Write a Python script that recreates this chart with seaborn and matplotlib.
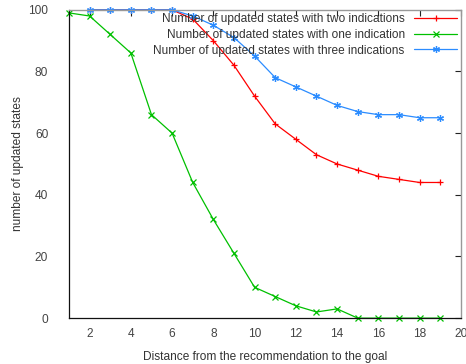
import matplotlib
matplotlib.use('Agg')
import matplotlib.pyplot as plt
import seaborn as sns
import pandas as pd

# values
x_one = list(range(1, 20))
one_ind = [99, 98, 92, 86, 66, 60, 44, 32, 21, 10, 7, 4, 2, 3, 0, 0, 0, 0, 0]

x_multi = list(range(2, 20))
two_ind = [100, 100, 100, 100, 100, 97, 90, 82, 72, 63, 58, 53, 50, 48, 46, 45, 44, 44]
three_ind = [100, 100, 100, 100, 100, 98, 95, 91, 85, 78, 75, 72, 69, 67, 66, 66, 65, 65]

labels = ['Number of updated states with two indications',
          'Number of updated states with one indication',
          'Number of updated states with three indications']
colors = ['#ff0000', '#00c000', '#2b8cff']
markers = ['+', 'x', (6, 2, 0)]

df = pd.concat([
    pd.DataFrame({'dist': x_multi, 'n': two_ind, 'series': labels[0]}),
    pd.DataFrame({'dist': x_one, 'n': one_ind, 'series': labels[1]}),
    pd.DataFrame({'dist': x_multi, 'n': three_ind, 'series': labels[2]}),
])

sns.set_style('white')
plt.rcParams['font.family'] = ['Liberation Sans', 'DejaVu Sans']

fig, ax = plt.subplots(figsize=(4.66, 3.64), dpi=100)
fig.subplots_adjust(left=0.148, right=0.989, top=0.973, bottom=0.126)

for lab, col, mk in zip(labels, colors, markers):
    d = df[df['series'] == lab]
    sns.lineplot(data=d, x='dist', y='n', ax=ax, color=col, marker=mk,
                 markersize=5, markeredgewidth=0.9, markeredgecolor=col,
                 linewidth=0.9, label=lab, clip_on=False)

fs = 8.6
ax.set_xlim(1, 20)
ax.set_ylim(0, 100)
ax.set_xticks(range(2, 21, 2))
ax.set_yticks(range(0, 101, 20))
ax.tick_params(direction='in', length=4, width=0.8, top=True, right=True,
               labelsize=fs, colors='#222222', labelcolor='#444444')
ax.tick_params(axis='x', pad=7)
ax.tick_params(axis='y', pad=15)
ax.set_xlabel('Distance from the recommendation to the goal', fontsize=fs,
              color='#333333', labelpad=8)
ax.set_ylabel('number of updated states', fontsize=fs, color='#333333',
              labelpad=3)

for side in ['left', 'bottom']:
    ax.spines[side].set_color('#111111')
    ax.spines[side].set_linewidth(0.9)
for side in ['top', 'right']:
    ax.spines[side].set_color('#999999')
    ax.spines[side].set_linewidth(1.0)

leg = ax.legend(loc='upper right', frameon=False, fontsize=fs, markerfirst=False,
                handlelength=3.6, borderaxespad=0.0, borderpad=0.3,
                labelspacing=0.3, handletextpad=0.8)
for t in leg.get_texts():
    t.set_color('#333333')
    t.set_ha('right')

fig.savefig('out.png', dpi=100)
